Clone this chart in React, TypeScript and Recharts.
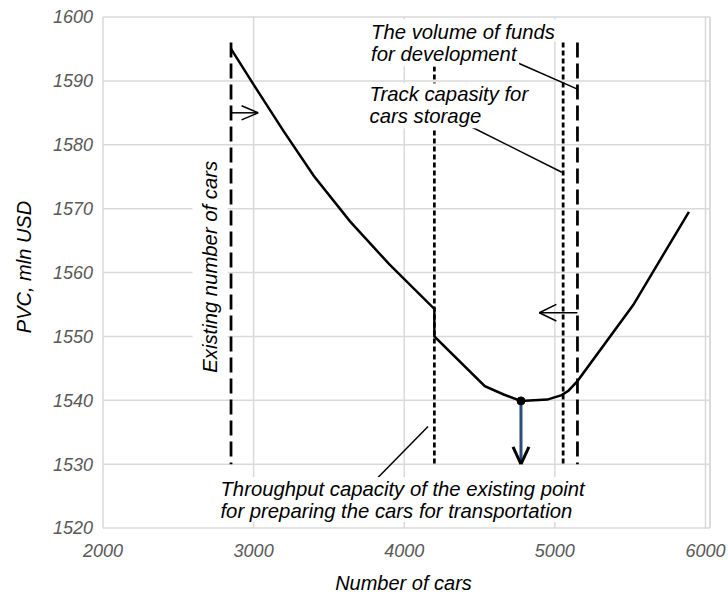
import React from 'react';
import { LineChart, Line, XAxis, YAxis, CartesianGrid, ReferenceLine, ReferenceDot } from 'recharts';

const FONT = '"Liberation Sans", Arial, sans-serif';

// PVC curve (number of cars -> PVC, mln USD)
const carCounts = [2850, 3000, 3200, 3400, 3640, 3900, 4200, 4200, 4535, 4660, 4775, 4950, 5045, 5090, 5150, 5520, 5890];
const pvcValues = [1595, 1589.4, 1582.1, 1575.1, 1568, 1561.3, 1554.3, 1550, 1542.2, 1540.9, 1539.9, 1540.1, 1540.8, 1541.5, 1543, 1554.9, 1569.5];

const xTicks = [2000, 3000, 4000, 5000, 6000];
const yTicks = [1520, 1530, 1540, 1550, 1560, 1570, 1580, 1590, 1600];

// constraints
const existingCars = 2850;
const throughputLimit = 4200;
const storageLimit = 5055;
const fundsLimit = 5150;
const limitTop = 1596;
const limitBottom = 1530;

// optimum
const optimumCars = 4775;
const optimumPvc = 1539.9;

const curveData = carCounts.map((cars, i) => ({ cars, pvc: pvcValues[i] }));

type Box = { x: number; y: number; w: number; h: number };

const note = (lines: string[], boxes: Box[], rotate = false) => (props: any) => {
  const { cx, cy } = props;
  if (cx == null || cy == null) return null;
  return (
    <g transform={`translate(${cx},${cy})${rotate ? ' rotate(-90)' : ''}`}>
      {boxes.map((b, i) => (
        <rect key={i} x={b.x} y={b.y} width={b.w} height={b.h} fill="#ffffff" />
      ))}
      <text fontFamily={FONT} fontSize={20.3} fontStyle="italic" fill="#000000">
        {lines.map((l, i) => (
          <tspan key={i} x={0} y={i * 22}>{l}</tspan>
        ))}
      </text>
    </g>
  );
};

const tickStyle = { fill: '#595959', fontSize: 18, fontStyle: 'italic', fontFamily: FONT };

const App: React.FC = () => {
  return (
    <div style={{ width: 728, height: 594 }}>
      <style>{'body{margin:0}'}</style>
      <LineChart width={728} height={594} margin={{ top: 17, right: 18, bottom: 0, left: 0 }}>
        <CartesianGrid stroke="#d9d9d9" strokeWidth={1.5} />
        <XAxis
          type="number"
          dataKey="cars"
          domain={[2000, 6030]}
          ticks={xTicks}
          allowDataOverflow
          height={66}
          axisLine={false}
          tickLine={false}
          tickSize={0}
          tickMargin={16}
          tick={tickStyle}
          label={{
            content: (p: any) => {
              const vb = p.viewBox || { x: 103, width: 607, y: 528 };
              return (
                <text x={vb.x + vb.width / 2 - 3} y={590} textAnchor="middle" fontFamily={FONT} fontSize={20} fontStyle="italic" fill="#000000">
                  Number of cars
                </text>
              );
            },
          }}
        />
        <YAxis
          type="number"
          domain={[1520, 1600]}
          ticks={yTicks}
          allowDataOverflow
          width={103}
          axisLine={false}
          tickLine={false}
          tickSize={0}
          tickMargin={10}
          tick={tickStyle}
          label={{
            content: () => (
              <text x={31} y={267} transform="rotate(-90, 31, 267)" textAnchor="middle" fontFamily={FONT} fontSize={20} fontStyle="italic" fill="#000000">
                PVC, mln USD
              </text>
            ),
          }}
        />
        <ReferenceLine x={6030} stroke="#d9d9d9" strokeWidth={1.5} />

        {/* constraint lines */}
        <ReferenceLine segment={[{ x: existingCars, y: limitTop }, { x: existingCars, y: limitBottom }]} stroke="#000" strokeWidth={2.75} strokeDasharray="15 6" />
        <ReferenceLine segment={[{ x: throughputLimit, y: limitTop }, { x: throughputLimit, y: limitBottom }]} stroke="#000" strokeWidth={2.75} strokeDasharray="5 3" />
        <ReferenceLine segment={[{ x: storageLimit, y: limitTop }, { x: storageLimit, y: limitBottom }]} stroke="#000" strokeWidth={2.75} strokeDasharray="5 3" />
        <ReferenceLine segment={[{ x: fundsLimit, y: limitTop }, { x: fundsLimit, y: limitBottom }]} stroke="#000" strokeWidth={2.75} strokeDasharray="15 6" />

        {/* text notes */}
        <ReferenceDot
          x={3780}
          y={1596.5}
          r={0}
          shape={note(['The volume of funds', 'for development'], [
            { x: -4, y: -20, w: 190, h: 22 },
            { x: -4, y: 2, w: 152, h: 25 },
          ])}
        />
        <ReferenceDot
          x={3770}
          y={1586.8}
          r={0}
          shape={note(['Track capasity for', 'cars storage'], [
            { x: -3, y: -18, w: 167, h: 22 },
            { x: -3, y: 4, w: 113, h: 23 },
          ])}
        />
        <ReferenceDot
          x={2780}
          y={1525}
          r={0}
          shape={note(['Throughput capacity of the existing point', 'for preparing the cars for transportation'], [
            { x: -5, y: -19, w: 376, h: 45 },
          ])}
        />
        <ReferenceDot
          x={2760}
          y={1544.3}
          r={0}
          shape={note(['Existing number of cars'], [{ x: -5, y: -25, w: 220, h: 35 }], true)}
        />

        {/* pointers */}
        <ReferenceLine segment={[{ x: 4755, y: 1592.8 }, { x: fundsLimit, y: 1588.7 }]} stroke="#000" strokeWidth={1.5} />
        <ReferenceLine segment={[{ x: 4437, y: 1582.9 }, { x: 5046, y: 1575.7 }]} stroke="#000" strokeWidth={1.5} />
        <ReferenceLine segment={[{ x: 3821, y: 1527.8 }, { x: 4158, y: 1535.9 }]} stroke="#000" strokeWidth={1.5} />

        {/* direction arrows */}
        <ReferenceLine segment={[{ x: existingCars, y: 1585 }, { x: 3030, y: 1585 }]} stroke="#000" strokeWidth={1.5} />
        <ReferenceLine segment={[{ x: 2920, y: 1586.1 }, { x: 3030, y: 1585 }]} stroke="#000" strokeWidth={1.5} />
        <ReferenceLine segment={[{ x: 2920, y: 1583.9 }, { x: 3030, y: 1585 }]} stroke="#000" strokeWidth={1.5} />
        <ReferenceLine segment={[{ x: fundsLimit, y: 1553.7 }, { x: 4897, y: 1553.7 }]} stroke="#000" strokeWidth={1.5} />
        <ReferenceLine segment={[{ x: 5010, y: 1555 }, { x: 4897, y: 1553.7 }]} stroke="#000" strokeWidth={1.5} />
        <ReferenceLine segment={[{ x: 5010, y: 1552.4 }, { x: 4897, y: 1553.7 }]} stroke="#000" strokeWidth={1.5} />

        <Line
          data={curveData}
          dataKey="pvc"
          type="linear"
          stroke="#000000"
          strokeWidth={2.5}
          dot={false}
          activeDot={false}
          isAnimationActive={false}
        />

        {/* optimum arrow */}
        <ReferenceLine segment={[{ x: optimumCars, y: optimumPvc }, { x: optimumCars, y: 1530.3 }]} stroke="#2b4c7e" strokeWidth={3} />
        <ReferenceLine segment={[{ x: 4722, y: 1532.7 }, { x: optimumCars, y: 1530 }]} stroke="#000" strokeWidth={3} />
        <ReferenceLine segment={[{ x: 4828, y: 1532.7 }, { x: optimumCars, y: 1530 }]} stroke="#000" strokeWidth={3} />
        <ReferenceDot x={optimumCars} y={optimumPvc} r={4} fill="#000" stroke="#000" />
      </LineChart>
    </div>
  );
};

export default App;
